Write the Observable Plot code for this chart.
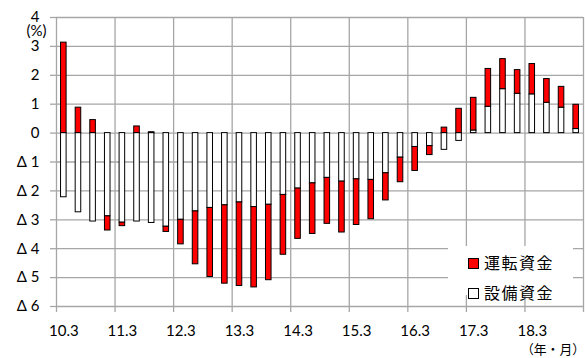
<!DOCTYPE html>
<html><head><meta charset="utf-8">
<script src="https://cdn.jsdelivr.net/npm/d3@7"></script>
<script src="https://cdn.jsdelivr.net/npm/@observablehq/plot@0.6"></script>
<style>
body{margin:0;background:#fff;}
#wrap{position:relative;width:585px;height:358px;overflow:hidden;font-family:Lato,"Open Sans",sans-serif;}
#legend{position:absolute;left:448px;top:246px;width:125px;height:49px;background:#fff;font-family:"Noto Sans CJK JP",sans-serif;font-size:16px;color:#000;}
.row{position:absolute;left:20px;height:20px;line-height:20px;white-space:nowrap;letter-spacing:1.5px;}
.sw{display:inline-block;width:9px;height:9px;border:1px solid #000;margin-right:5px;vertical-align:middle;position:relative;top:-1px;}
#unit{position:absolute;left:521px;top:341px;font-family:"Noto Sans CJK JP",sans-serif;font-size:12.8px;white-space:nowrap;color:#000;line-height:16px;}
</style></head><body><div id="wrap"></div>
<script>
const quarters = ["10.3","10.6","10.9","10.12","11.3","11.6","11.9","11.12","12.3","12.6","12.9","12.12",
  "13.3","13.6","13.9","13.12","14.3","14.6","14.9","14.12","15.3","15.6","15.9","15.12",
  "16.3","16.6","16.9","16.12","17.3","17.6","17.9","17.12","18.3","18.6","18.9","18.12"];
const setsubi = [-2.22,-2.74,-3.06,-2.88,-3.10,-3.06,-3.11,-3.24,-3.00,-2.71,-2.59,-2.50,
  -2.40,-2.56,-2.48,-2.14,-1.92,-1.74,-1.55,-1.68,-1.60,-1.62,-1.39,-0.85,
  -0.48,-0.45,-0.58,-0.27,0.09,0.91,1.52,1.36,1.34,1.05,0.88,0.14];
const unten = [3.13,0.88,0.45,-0.49,-0.12,0.23,0.03,-0.18,-0.85,-1.83,-2.39,-2.71,
  -2.89,-2.78,-2.61,-2.07,-1.74,-1.75,-1.59,-1.76,-1.58,-1.36,-0.94,-0.85,
  -0.83,-0.31,0.19,0.84,1.13,1.31,1.04,0.82,1.05,0.82,0.72,0.84];
const seriesNames = ["設備資金","運転資金"];
const seriesColors = ["#ffffff","#ff0000"];
const yearLabels = ["10.3","11.3","12.3","13.3","14.3","15.3","16.3","17.3","18.3"];
const yTicks = [-6,-5,-4,-3,-2,-1,0,1,2,3,4];

const rows = quarters.flatMap((q, i) => [
  {q: i, series: seriesNames[0], value: setsubi[i]},
  {q: i, series: seriesNames[1], value: unten[i]}
]);
const gridX = yearLabels.map(l => quarters.indexOf(l)).concat([quarters.length]);
const labelX = yearLabels.map(l => quarters.indexOf(l) + 0.5);
const grid = "#a6a6a6";

const chart = Plot.plot({
  width: 585, height: 358,
  marginLeft: 56, marginRight: 2, marginTop: 17, marginBottom: 52,
  x: {type: "linear", domain: [0, quarters.length], axis: null},
  y: {domain: [-6, 4], axis: null},
  color: {domain: seriesNames, range: seriesColors},
  style: {fontFamily: "Lato, 'Open Sans', sans-serif", fontSize: "15px", color: "#000", background: "#fff"},
  marks: [
    Plot.ruleY(yTicks, {stroke: grid, strokeWidth: 1.3}),
    Plot.ruleX(gridX, {stroke: grid, strokeWidth: 1.3}),
    Plot.axisY({ticks: yTicks, tickSize: 6, tickPadding: 11, stroke: grid, strokeWidth: 1.3, fill: "#000",
      tickFormat: d => d < 0 ? "Δ " + (-d) : String(d), label: null}),
    Plot.axisX({ticks: gridX, tickSize: 6, stroke: grid, strokeWidth: 1.3, tickFormat: () => "", label: null}),
    Plot.axisX({ticks: labelX, tickSize: 0, tickPadding: 19, fill: "#000",
      tickFormat: v => quarters[Math.floor(v)], label: null}),
    Plot.rectY(rows, {x1: d => d.q + 0.31, x2: d => d.q + 0.69, y: "value", fill: "series", stroke: "#000", strokeWidth: 1}),
    Plot.text(["(%)"], {frameAnchor: "top-left", dx: -20, dy: 14, fontSize: 15, textAnchor: "middle", lineAnchor: "middle", fill: "#000"})
  ]
});
const wrap = document.getElementById("wrap");
wrap.appendChild(chart);
const leg = document.createElement("div");
leg.id = "legend";
[1, 0].forEach((k, j) => {
  const r = document.createElement("div");
  r.className = "row";
  r.style.top = (j === 0 ? -4 : 26) + 10 + "px";
  const sw = document.createElement("span");
  sw.className = "sw";
  sw.style.background = seriesColors[k];
  r.appendChild(sw);
  r.appendChild(document.createTextNode(seriesNames[k]));
  leg.appendChild(r);
});
wrap.appendChild(leg);
const unit = document.createElement("div");
unit.id = "unit";
unit.textContent = "（年・月）";
wrap.appendChild(unit);
</script>
</body></html>
